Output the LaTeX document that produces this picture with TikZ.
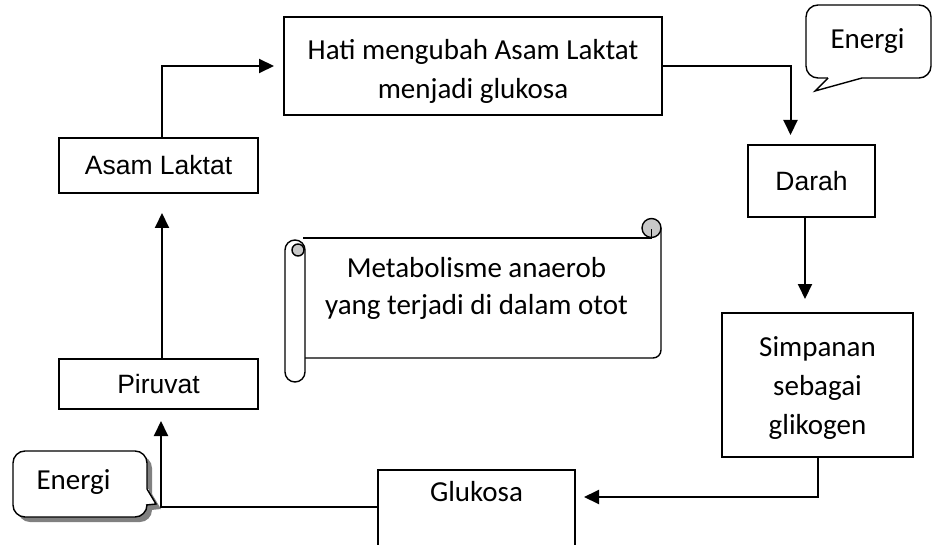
\documentclass[tikz,border=0pt]{standalone}
\usepackage{fontspec}
\setmainfont{Carlito}
\newfontfamily\arialf{Liberation Sans}
\usetikzlibrary{arrows.meta,calc}
\definecolor{scrollgray}{RGB}{200,200,200}
\definecolor{shadowgray}{RGB}{128,128,128}
\begin{document}
\begin{tikzpicture}[x=1pt,y=-1pt,
  cal/.style={font=\fontsize{29}{39}\selectfont},
  ari/.style={font=\arialf\fontsize{26.5}{32}\selectfont},
  boxn/.style={draw, line width=2pt, inner sep=0pt},
  conn/.style={line width=2pt, -{Triangle[length=15pt,width=14pt]}},
  outl/.style={line width=1.4pt},
  callout/.style={draw, line width=1.4pt, rounded corners=12pt, fill=white, inner sep=0pt}]
\clip (0,0) rectangle (933,545);
\fill[white] (0,0) rectangle (933,545);

% boxes
\node[boxn, ari, minimum width=199pt, minimum height=55pt] (asam) at (158.5,165.5) {Asam Laktat};
\node[boxn, ari, minimum width=199pt, minimum height=50pt] (piru) at (158.5,384) {Piruvat};
\node[boxn, minimum width=378pt, minimum height=98pt] (hati) at (473,66) {};
\node[cal, align=center] (hatit) at (473,71) {Hati mengubah Asam Laktat\\menjadi glukosa};
\node[boxn, ari, minimum width=127pt, minimum height=72pt] (darah) at (811.5,181) {Darah};
\node[boxn, minimum width=191pt, minimum height=144pt] (simp) at (817.5,385) {};
\node[cal, align=center] (simpt) at (817.5,388) {Simpanan\\sebagai\\glikogen};
\node[boxn, minimum width=197pt, minimum height=100pt, anchor=north] (glu) at (476.5,469) {};
\node[cal] (glut) at (476.5,492) {Glukosa};

% connectors
\draw[conn, shorten >=19pt] ([xshift=3.5pt]piru.north) -- ([xshift=3.5pt]asam.south);
\draw[conn, shorten >=9pt] ([xshift=3.5pt]asam.north) |- (hati.west);
\draw[conn, shorten >=9pt] (hati.east) -| ([xshift=-21pt]darah.north);
\draw[conn, shorten >=13pt] ([xshift=-6.5pt]darah.south) -- ([xshift=-12.5pt]simp.north);
\draw[conn, shorten >=8pt] (simp.south) |- ([yshift=-28pt]glu.north east);
\draw[conn, shorten >=11pt] ([yshift=-38pt]glu.north west) -| ([xshift=2.5pt]piru.south);

% top-right callout
\node[callout, minimum width=125pt, minimum height=73pt] (en1) at (868.5,41.5) {};
\fill[white] (828,76) rectangle (862,80);
\draw[outl, fill=white] (828,78) -- (815,91) -- (862,78);
\node[cal] (en1t) at (867.5,41) {Energi};

% bottom-left callout with shadow
\fill[shadowgray, rounded corners=12pt] (18,456) rectangle (152,522);
\fill[shadowgray] (152,494) -- (161,509) -- (151,510) -- cycle;
\node[callout, minimum width=134pt, minimum height=66pt] (en2) at (80,484) {};
\fill[white] (145,489) rectangle (149,505);
\draw[outl, fill=white] (147,489) -- (156,504) -- (146,505);
\node[cal] (en2t) at (73.5,482) {Energi};

% scroll
\draw[outl] (303,238) -- (651.5,238);
\draw[outl, rounded corners=8pt] (661,228) -- (661,358) -- (303,358);
\draw[outl, fill=scrollgray] (651.5,228) circle (9.5pt);
\draw[outl] (651.5,229) -- (651.5,238);
\draw[outl, fill=white, rounded corners=10pt] (285,240) rectangle (305,382);
\draw[outl, fill=scrollgray] (298,250) circle (6pt);
\node[align=center, font=\fontsize{29}{37}\selectfont] (scrollt) at (476.5,288) {Metabolisme anaerob\\yang terjadi di dalam otot};
\end{tikzpicture}
\end{document}
